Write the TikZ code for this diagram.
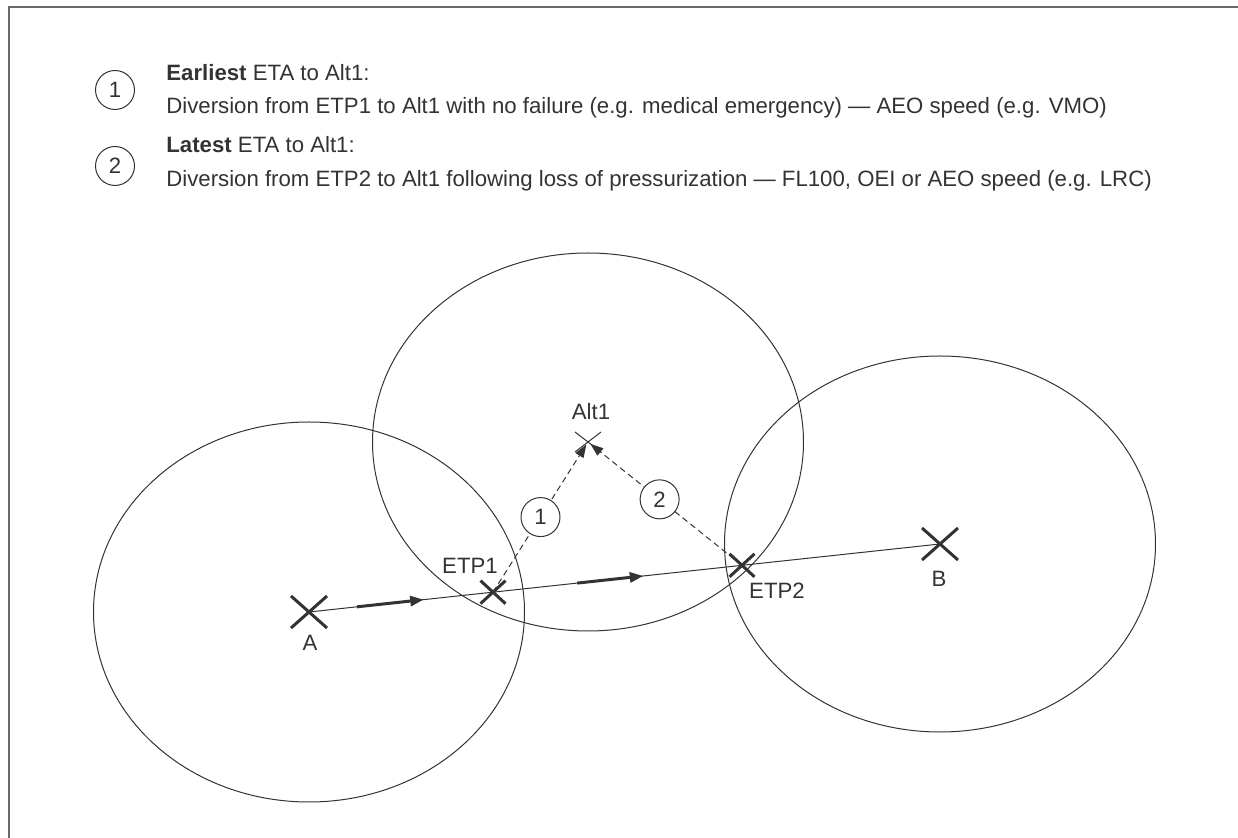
\documentclass[tikz,border=0pt]{standalone}
\usepackage{fontspec}
\setmainfont{Liberation Sans}
\usetikzlibrary{arrows.meta,calc}
\definecolor{ink}{HTML}{333333}
\definecolor{framegray}{HTML}{6A6A6A}
\tikzset{
  pics/bigx/.style={code={\draw[ink,solid,line width=1.5pt] (-18,-16)--(18,16) (-18,16)--(18,-16);}},
  pics/midx/.style={code={\draw[ink,solid,line width=1.5pt] (-12.5,-11.5)--(12.5,11.5) (-12.5,11.5)--(12.5,-11.5);}},
  pics/thinx/.style={code={\draw[ink,solid,line width=0.5pt] (-13,-10)--(13,10) (-13,10)--(13,-10);}},
}
\begin{document}
\begin{tikzpicture}[x=0.5pt,y=-0.5pt,
  font=\fontsize{11.1pt}{13pt}\selectfont,
  zone/.style={draw=ink,line width=0.5pt},
  route/.style={draw=ink,line width=0.5pt},
  heavy/.style={draw=ink,line width=1.5pt,-{Triangle[length=6.5pt,width=5.5pt,line width=0pt]}},
  diversion/.style={draw=ink,line width=0.5pt,dash pattern=on 3pt off 2pt,
    shorten >=1.5pt,-{Triangle[length=6.5pt,width=4.8pt,line width=0pt]}},
  tag/.style={circle,draw=ink,solid,line width=0.5pt,fill=white,text=ink,
    minimum size=19.5pt,inner sep=0pt},
  lbl/.style={inner sep=0pt,text=ink,anchor=base},
  legend/.style={inner sep=0pt,text=ink,anchor=base west},
]
\useasboundingbox (0,0) rectangle (1238,838);

% frame
\draw[framegray,line width=0.7pt] (9,838) -- (9,7) -- (1238,7);

% legend
\node[tag] (key1) at (115,90) {1};
\node[legend] (key1a) at (166,81) {\textbf{Earliest} ETA to Alt1:};
\node[legend] (key1b) at (166,114) {Diversion from ETP1 to Alt1 with no failure (e.g. medical emergency) — AEO speed (e.g. VMO)};
\node[tag] (key2) at (115,166) {2};
\node[legend] (key2a) at (166,153) {\textbf{Latest} ETA to Alt1:};
\node[legend] (key2b) at (166,187) {Diversion from ETP2 to Alt1 following loss of pressurization — FL100, OEI or AEO speed (e.g. LRC)};

% points
\coordinate (A) at (309,612);
\coordinate (B) at (940,544);
\coordinate (Alt1) at (588,442);
\coordinate (ETP1) at ($(A)!0.2916!(B)$);
\coordinate (ETP2) at ($(A)!0.6862!(B)$);

% range ellipses
\draw[zone] (A) ellipse [x radius=215.5, y radius=190];
\draw[zone] (Alt1) ellipse [x radius=215.5, y radius=189];
\draw[zone] (B) ellipse [x radius=215.5, y radius=188];

% route
\draw[route] (A) -- (B);
\draw[heavy] ($(A)!0.076!(B)$) -- ($(A)!0.181!(B)$);
\draw[heavy] ($(A)!0.425!(B)$) -- ($(A)!0.529!(B)$);

% diversions
\draw[diversion] (ETP1) -- node[tag,pos=0.5] (d1) {1} (Alt1);
\draw[diversion] (ETP2) -- node[tag,pos=0.535] (d2) {2} (Alt1);

% marks
\pic at (A) {bigx};
\pic at (B) {bigx};
\pic at (ETP1) {midx};
\pic at (ETP2) {midx};
\pic at (Alt1) {thinx};

% labels
\node[lbl] (labA) at (310,651) {A};
\node[lbl] (labB) at (939,587) {B};
\node[lbl] (labE1) at (470,574) {ETP1};
\node[lbl] (labE2) at (777,599) {ETP2};
\node[lbl] (labAlt) at (591,420) {Alt1};
\end{tikzpicture}
\end{document}
